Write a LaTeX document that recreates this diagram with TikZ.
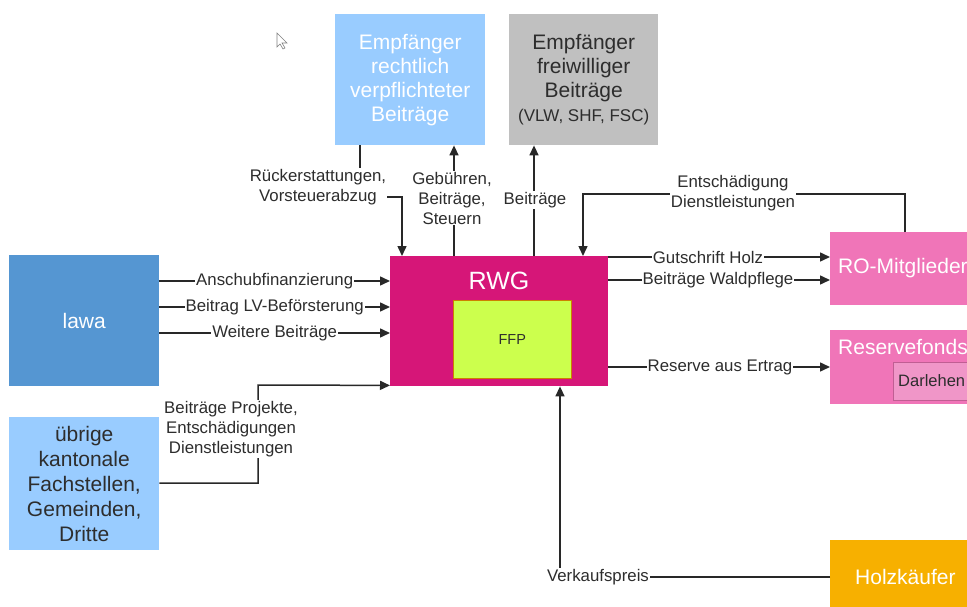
\documentclass[tikz,border=0pt]{standalone}
\usepackage{fontspec}
\setmainfont{Liberation Sans}
\usetikzlibrary{calc,arrows.meta}
\definecolor{lblue}{RGB}{153,204,255}
\definecolor{mblue}{RGB}{85,150,210}
\definecolor{lgray}{RGB}{192,192,192}
\definecolor{rwgc}{RGB}{214,22,120}
\definecolor{ffpc}{RGB}{204,255,77}
\definecolor{pinkc}{RGB}{240,117,184}
\definecolor{darlc}{RGB}{240,150,200}
\definecolor{orangec}{RGB}{247,176,0}
\definecolor{linec}{RGB}{40,40,40}
\definecolor{txtc}{RGB}{45,45,45}
\tikzset{
  box/.style={draw=none, inner sep=0pt, anchor=north west, align=center, text=white,
    font=\fontsize{21}{24}\selectfont},
  conn/.style={draw=linec, line width=1.5pt, -{Triangle[length=10pt,width=9pt]}},
  lbl/.style={fill=white, inner sep=1pt, align=center, text=txtc,
    font=\fontsize{16.8}{20}\selectfont},
}
\begin{document}
\begin{tikzpicture}[x=1pt,y=-1pt]
\useasboundingbox (0,0) rectangle (967,607);
\clip (0,0) rectangle (967,607);
\fill[white] (0,0) rectangle (967,607);
% boxes
\node[box, fill=lblue, minimum width=150pt, minimum height=131pt] (emp1) at (335,14)
  {Empfänger\\rechtlich\\verpflichteter\\Beiträge};
\node[box, fill=lgray, text=txtc, minimum width=149pt, minimum height=131pt] (emp2) at (509,14)
  {Empfänger\\freiwilliger\\Beiträge\\{\fontsize{17}{22}\selectfont (VLW, SHF, FSC)}};
\node[box, fill=mblue, minimum width=150pt, minimum height=131pt] (lawa) at (9,255) {lawa};
\node[box, fill=lblue, text=txtc, minimum width=150pt, minimum height=133pt, font=\fontsize{21}{25}\selectfont] (uebrige) at (9,417)
  {übrige\\kantonale\\Fachstellen,\\Gemeinden,\\Dritte};
\node[box, fill=rwgc, minimum width=218pt, minimum height=130pt] (rwg) at (390,256) {};
\node[text=white, font=\fontsize{25}{28}\selectfont, inner sep=0pt] (rwgt) at (499,281) {RWG};
\node[box, fill=ffpc, draw=orange!60!olive, line width=0.6pt, text=txtc, minimum width=118pt, minimum height=78pt,
  font=\fontsize{14.5}{17}\selectfont] (ffp) at (453,300) {FFP};
\node[box, fill=pinkc, minimum width=180pt, minimum height=73pt] (ro) at (830,232) {};
\node[anchor=west, text=white, inner sep=0pt, font=\fontsize{21}{24}\selectfont] (rot) at (838,268) {RO-Mitglieder};
\node[box, fill=pinkc, minimum width=180pt, minimum height=74pt] (res) at (830,330) {};
\node[anchor=west, text=white, inner sep=0pt, font=\fontsize{21}{24}\selectfont] (rest) at (838,347) {Reservefonds};
\node[box, fill=darlc, draw=pinkc!80!black, line width=0.6pt, minimum width=100pt, minimum height=38pt] (darl) at (893,362) {};
\node[anchor=west, text=txtc, inner sep=0pt, font=\fontsize{16.5}{20}\selectfont] (darlt) at (898,381) {Darlehen};
\node[box, fill=orangec, minimum width=180pt, minimum height=70pt] (holz) at (830,540) {};
\node[anchor=west, text=white, inner sep=0pt, font=\fontsize{21}{24}\selectfont] (holzt) at (855,577) {Holzkäufer};
% cursor
\draw[gray, line width=0.6pt, fill=white] (277,33) -- (277,47) -- (280,44) -- (283,49) -- (285,48) -- (282,43) -- (287,43) -- cycle;
% connectors left
\draw[conn] ($(lawa.north east)+(0,26)$) -- ($(rwg.north west)+(0,25)$)
  node[lbl, pos=0.5] {Anschubfinanzierung};
\draw[conn] ($(lawa.north east)+(0,52)$) -- ($(rwg.north west)+(0,51)$)
  node[lbl, pos=0.5] {Beitrag LV-Beförsterung};
\draw[conn] ($(lawa.north east)+(0,78)$) -- ($(rwg.north west)+(0,77)$)
  node[lbl, pos=0.5] {Weitere Beiträge};
\draw[conn] ($(uebrige.north east)+(0,66)$) -| (258,385) -- ($(rwg.south west)+(0,-1)$);
\node[lbl] (lproj) at (231,429) {Beiträge Projekte,\\Entschädigungen\\Dienstleistungen};
% top
\draw[conn] ($(emp1.south west)+(25,0)$) |- (402,197) -- ($(rwg.north west)+(12,0)$);
\node[lbl] (lrueck) at (318,187) {Rückerstattungen,\\Vorsteuerabzug};
\draw[conn] ($(rwg.north west)+(64,0)$) -- ($(emp1.south west)+(119,0)$);
\node[lbl] (lgeb) at (452,198) {Gebühren,\\Beiträge,\\Steuern};
\draw[conn] ($(rwg.north west)+(144,0)$) -- ($(emp2.south west)+(25,0)$);
\node[lbl] (lbei) at (535,200) {Beiträge};
\draw[conn] ($(ro.north west)+(75,0)$) |- (583,194) -- ($(rwg.north west)+(193,0)$);
\node[lbl] (lent) at (733,193) {Entschädigung\\Dienstleistungen};
% right
\draw[conn] ($(rwg.north east)+(0,1)$) -- ($(ro.north west)+(0,25)$);
\node[lbl] (lgut) at (708,257) {Gutschrift Holz};
\draw[conn] ($(rwg.north east)+(0,24)$) -- ($(ro.north west)+(0,48)$);
\node[lbl] (lwald) at (718,280) {Beiträge Waldpflege};
\draw[conn] ($(rwg.north east)+(0,111)$) -- ($(res.north west)+(0,37)$);
\node[lbl] (lres) at (720,367) {Reserve aus Ertrag};
% bottom
\draw[conn] ($(holz.north west)+(0,37)$) -| ($(rwg.south west)+(170,0)$);
\node[lbl] (lverk) at (598,577) {Verkaufspreis};
\end{tikzpicture}
\end{document}
